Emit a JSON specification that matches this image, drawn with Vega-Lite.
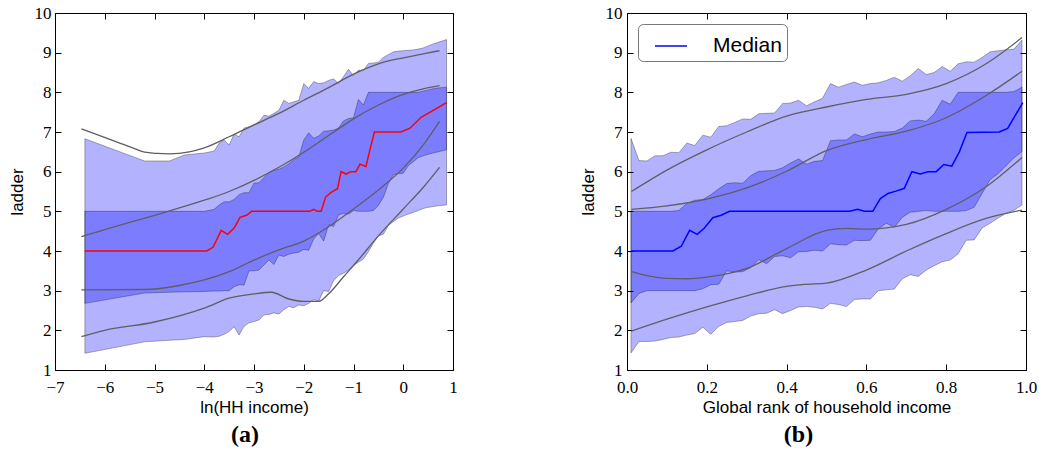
{
  "$schema": "https://vega.github.io/schema/vega-lite/v6.json",
  "background": "white",
  "padding": {"left": 7, "top": 3, "right": 5, "bottom": 5},
  "bounds": "flush",
  "spacing": 174,
  "resolve": {"scale": {"color": "independent"}, "legend": {"color": "independent"}},
  "config": {
    "view": {"stroke": "black", "strokeWidth": 1},
    "axis": {"grid": false, "domain": false, "tickColor": "black", "tickSize": -6, "tickWidth": 1,
      "labelFont": "Liberation Serif", "labelFontSize": 17, "labelColor": "black", "labelFlush": false, "labelOverlap": false, "labelBound": false,
      "titleFont": "Liberation Sans", "titleFontSize": 17, "titleFontWeight": "normal", "titleColor": "black"}
  },
  "datasets": {
    "a_band": [
      {"x": -6.4, "olo": 1.42, "ohi": 6.83, "ilo": 2.68, "ihi": 5.0},
      {"x": -5.2, "olo": 1.71, "ohi": 6.27, "ilo": 2.94, "ihi": 5.0},
      {"x": -4.7, "olo": 1.75, "ohi": 6.27, "ilo": 2.96, "ihi": 5.0},
      {"x": -4.4, "olo": 1.77, "ohi": 6.42, "ilo": 2.97, "ihi": 5.0},
      {"x": -4.0, "olo": 1.84, "ohi": 6.47, "ilo": 2.98, "ihi": 5.0},
      {"x": -3.8, "olo": 1.83, "ohi": 6.52, "ilo": 2.99, "ihi": 5.05},
      {"x": -3.7, "olo": 1.85, "ohi": 6.72, "ilo": 2.99, "ihi": 5.16},
      {"x": -3.6, "olo": 1.90, "ohi": 6.80, "ilo": 3.0, "ihi": 5.24},
      {"x": -3.5, "olo": 1.97, "ohi": 6.67, "ilo": 3.0, "ihi": 5.24},
      {"x": -3.4, "olo": 2.09, "ohi": 6.95, "ilo": 3.10, "ihi": 5.30},
      {"x": -3.3, "olo": 1.88, "ohi": 6.88, "ilo": 3.15, "ihi": 5.42},
      {"x": -3.2, "olo": 2.10, "ohi": 7.10, "ilo": 3.14, "ihi": 5.47},
      {"x": -3.1, "olo": 2.19, "ohi": 7.13, "ilo": 3.50, "ihi": 5.47},
      {"x": -3.0, "olo": 2.22, "ohi": 7.18, "ilo": 3.50, "ihi": 5.71},
      {"x": -2.9, "olo": 2.26, "ohi": 7.26, "ilo": 3.52, "ihi": 5.72},
      {"x": -2.8, "olo": 2.39, "ohi": 7.42, "ilo": 3.65, "ihi": 5.85},
      {"x": -2.7, "olo": 2.40, "ohi": 7.40, "ilo": 3.77, "ihi": 5.98},
      {"x": -2.6, "olo": 2.44, "ohi": 7.47, "ilo": 3.66, "ihi": 6.04},
      {"x": -2.5, "olo": 2.41, "ohi": 7.55, "ilo": 3.90, "ihi": 6.06},
      {"x": -2.4, "olo": 2.52, "ohi": 7.80, "ilo": 3.86, "ihi": 6.12},
      {"x": -2.3, "olo": 2.60, "ohi": 7.72, "ilo": 3.92, "ihi": 6.20},
      {"x": -2.2, "olo": 2.57, "ohi": 7.76, "ilo": 3.95, "ihi": 6.30},
      {"x": -2.1, "olo": 2.64, "ohi": 7.80, "ilo": 3.97, "ihi": 6.37},
      {"x": -2.0, "olo": 2.62, "ohi": 8.22, "ilo": 4.04, "ihi": 6.80},
      {"x": -1.9, "olo": 2.68, "ohi": 8.10, "ilo": 4.02, "ihi": 6.98},
      {"x": -1.8, "olo": 2.77, "ohi": 8.27, "ilo": 4.30, "ihi": 6.84},
      {"x": -1.7, "olo": 2.74, "ohi": 8.22, "ilo": 4.44, "ihi": 6.90},
      {"x": -1.6, "olo": 3.00, "ohi": 8.24, "ilo": 4.25, "ihi": 7.02},
      {"x": -1.5, "olo": 2.98, "ohi": 8.30, "ilo": 4.66, "ihi": 7.03},
      {"x": -1.4, "olo": 3.25, "ohi": 8.34, "ilo": 4.62, "ihi": 7.05},
      {"x": -1.3, "olo": 3.38, "ohi": 8.22, "ilo": 4.91, "ihi": 7.10},
      {"x": -1.2, "olo": 3.44, "ohi": 8.40, "ilo": 4.95, "ihi": 7.28},
      {"x": -1.1, "olo": 3.52, "ohi": 8.58, "ilo": 4.93, "ihi": 7.34},
      {"x": -1.0, "olo": 3.63, "ohi": 8.42, "ilo": 5.02, "ihi": 7.36},
      {"x": -0.9, "olo": 3.72, "ohi": 8.56, "ilo": 5.0, "ihi": 7.82},
      {"x": -0.8, "olo": 3.80, "ohi": 8.55, "ilo": 5.0, "ihi": 7.68},
      {"x": -0.7, "olo": 3.98, "ohi": 8.73, "ilo": 5.0, "ihi": 8.0},
      {"x": -0.6, "olo": 4.20, "ohi": 8.74, "ilo": 5.02, "ihi": 8.0},
      {"x": -0.5, "olo": 4.38, "ohi": 8.76, "ilo": 5.15, "ihi": 8.0},
      {"x": -0.4, "olo": 4.42, "ohi": 8.88, "ilo": 5.35, "ihi": 8.0},
      {"x": -0.3, "olo": 4.64, "ohi": 8.95, "ilo": 5.70, "ihi": 8.0},
      {"x": -0.2, "olo": 4.74, "ohi": 9.02, "ilo": 5.92, "ihi": 8.0},
      {"x": -0.1, "olo": 4.83, "ohi": 9.04, "ilo": 5.95, "ihi": 8.0},
      {"x": 0.0, "olo": 4.88, "ohi": 9.05, "ilo": 5.96, "ihi": 8.0},
      {"x": 0.1, "olo": 4.93, "ohi": 9.06, "ilo": 6.15, "ihi": 8.0},
      {"x": 0.2, "olo": 4.97, "ohi": 9.07, "ilo": 6.25, "ihi": 8.0},
      {"x": 0.3, "olo": 5.02, "ohi": 9.09, "ilo": 6.35, "ihi": 8.0},
      {"x": 0.4, "olo": 5.07, "ohi": 9.12, "ilo": 6.40, "ihi": 8.03},
      {"x": 0.5, "olo": 5.10, "ohi": 9.17, "ilo": 6.44, "ihi": 8.06},
      {"x": 0.6, "olo": 5.12, "ohi": 9.22, "ilo": 6.47, "ihi": 8.09},
      {"x": 0.7, "olo": 5.14, "ohi": 9.26, "ilo": 6.50, "ihi": 8.11},
      {"x": 0.87, "olo": 5.16, "ohi": 9.33, "ilo": 6.55, "ihi": 8.13}
    ],
    "a_lines": [
      {"id": "L1", "x": -6.47, "y": 7.08}, {"id": "L1", "x": -6.1, "y": 6.91}, {"id": "L1", "x": -5.7, "y": 6.72}, {"id": "L1", "x": -5.4, "y": 6.58}, {"id": "L1", "x": -5.2, "y": 6.49}, {"id": "L1", "x": -4.95, "y": 6.46}, {"id": "L1", "x": -4.7, "y": 6.45}, {"id": "L1", "x": -4.3, "y": 6.5}, {"id": "L1", "x": -4.0, "y": 6.6}, {"id": "L1", "x": -3.5, "y": 6.88}, {"id": "L1", "x": -3.0, "y": 7.18}, {"id": "L1", "x": -2.5, "y": 7.47}, {"id": "L1", "x": -2.0, "y": 7.8}, {"id": "L1", "x": -1.5, "y": 8.12}, {"id": "L1", "x": -1.0, "y": 8.46}, {"id": "L1", "x": -0.5, "y": 8.72}, {"id": "L1", "x": 0.0, "y": 8.87}, {"id": "L1", "x": 0.4, "y": 8.97}, {"id": "L1", "x": 0.73, "y": 9.05},
      {"id": "L2", "x": -6.47, "y": 4.36}, {"id": "L2", "x": -6.0, "y": 4.54}, {"id": "L2", "x": -5.0, "y": 4.9}, {"id": "L2", "x": -4.0, "y": 5.28}, {"id": "L2", "x": -3.5, "y": 5.5}, {"id": "L2", "x": -3.0, "y": 5.78}, {"id": "L2", "x": -2.5, "y": 6.11}, {"id": "L2", "x": -2.0, "y": 6.49}, {"id": "L2", "x": -1.5, "y": 6.91}, {"id": "L2", "x": -1.0, "y": 7.33}, {"id": "L2", "x": -0.5, "y": 7.68}, {"id": "L2", "x": 0.0, "y": 7.95}, {"id": "L2", "x": 0.4, "y": 8.09}, {"id": "L2", "x": 0.73, "y": 8.17},
      {"id": "L3", "x": -6.47, "y": 3.02}, {"id": "L3", "x": -5.2, "y": 3.03}, {"id": "L3", "x": -4.5, "y": 3.13}, {"id": "L3", "x": -4.0, "y": 3.27}, {"id": "L3", "x": -3.5, "y": 3.48}, {"id": "L3", "x": -3.0, "y": 3.77}, {"id": "L3", "x": -2.5, "y": 4.03}, {"id": "L3", "x": -2.0, "y": 4.25}, {"id": "L3", "x": -1.5, "y": 4.61}, {"id": "L3", "x": -1.0, "y": 5.06}, {"id": "L3", "x": -0.5, "y": 5.54}, {"id": "L3", "x": 0.0, "y": 6.09}, {"id": "L3", "x": 0.4, "y": 6.67}, {"id": "L3", "x": 0.73, "y": 7.27},
      {"id": "L4", "x": -6.47, "y": 1.84}, {"id": "L4", "x": -6.0, "y": 2.0}, {"id": "L4", "x": -5.0, "y": 2.21}, {"id": "L4", "x": -4.0, "y": 2.56}, {"id": "L4", "x": -3.5, "y": 2.81}, {"id": "L4", "x": -3.0, "y": 2.92}, {"id": "L4", "x": -2.65, "y": 2.96}, {"id": "L4", "x": -2.3, "y": 2.79}, {"id": "L4", "x": -2.0, "y": 2.73}, {"id": "L4", "x": -1.7, "y": 2.73}, {"id": "L4", "x": -1.5, "y": 2.92}, {"id": "L4", "x": -1.2, "y": 3.35}, {"id": "L4", "x": -0.9, "y": 3.78}, {"id": "L4", "x": -0.5, "y": 4.38}, {"id": "L4", "x": 0.0, "y": 5.06}, {"id": "L4", "x": 0.4, "y": 5.6}, {"id": "L4", "x": 0.73, "y": 6.11}
    ],
    "a_med": [
      {"x": -6.4, "y": 4.0}, {"x": -3.95, "y": 4.0}, {"x": -3.82, "y": 4.1}, {"x": -3.66, "y": 4.52}, {"x": -3.53, "y": 4.42}, {"x": -3.4, "y": 4.58}, {"x": -3.28, "y": 4.85}, {"x": -3.15, "y": 4.9}, {"x": -3.05, "y": 5.0}, {"x": -1.88, "y": 5.0}, {"x": -1.8, "y": 5.05}, {"x": -1.73, "y": 5.0}, {"x": -1.65, "y": 5.0}, {"x": -1.56, "y": 5.36}, {"x": -1.45, "y": 5.48}, {"x": -1.32, "y": 5.57}, {"x": -1.25, "y": 6.0}, {"x": -1.15, "y": 5.94}, {"x": -1.05, "y": 6.0}, {"x": -0.95, "y": 6.0}, {"x": -0.87, "y": 6.19}, {"x": -0.75, "y": 6.13}, {"x": -0.68, "y": 6.5}, {"x": -0.58, "y": 7.0}, {"x": -0.05, "y": 7.0}, {"x": 0.13, "y": 7.09}, {"x": 0.36, "y": 7.37}, {"x": 0.87, "y": 7.74}
    ],
    "b_band": [
      {"x": 0.01, "ohi": 6.84, "olo": 1.43, "ihi": 5.0, "ilo": 2.69},
      {"x": 0.03, "ohi": 6.28, "olo": 1.72, "ihi": 5.0, "ilo": 2.93},
      {"x": 0.05, "ohi": 6.27, "olo": 1.72, "ihi": 5.0, "ilo": 3.0},
      {"x": 0.07, "ohi": 6.40, "olo": 1.73, "ihi": 5.0, "ilo": 3.0},
      {"x": 0.09, "ohi": 6.40, "olo": 1.77, "ihi": 5.0, "ilo": 3.0},
      {"x": 0.11, "ohi": 6.49, "olo": 1.82, "ihi": 5.0, "ilo": 3.0},
      {"x": 0.13, "ohi": 6.48, "olo": 1.83, "ihi": 5.02, "ilo": 3.0},
      {"x": 0.15, "ohi": 6.72, "olo": 1.88, "ihi": 5.2, "ilo": 3.0},
      {"x": 0.17, "ohi": 6.66, "olo": 1.92, "ihi": 5.28, "ilo": 3.0},
      {"x": 0.19, "ohi": 6.92, "olo": 2.08, "ihi": 5.30, "ilo": 3.05},
      {"x": 0.21, "ohi": 6.87, "olo": 1.90, "ihi": 5.42, "ilo": 3.15},
      {"x": 0.23, "ohi": 7.14, "olo": 2.10, "ihi": 5.57, "ilo": 3.16},
      {"x": 0.25, "ohi": 7.16, "olo": 2.20, "ihi": 5.70, "ilo": 3.50},
      {"x": 0.27, "ohi": 7.24, "olo": 2.22, "ihi": 5.72, "ilo": 3.47},
      {"x": 0.29, "ohi": 7.33, "olo": 2.25, "ihi": 5.71, "ilo": 3.48},
      {"x": 0.31, "ohi": 7.32, "olo": 2.36, "ihi": 5.90, "ilo": 3.58},
      {"x": 0.33, "ohi": 7.46, "olo": 2.42, "ihi": 6.01, "ilo": 3.78},
      {"x": 0.35, "ohi": 7.47, "olo": 2.43, "ihi": 6.02, "ilo": 3.68},
      {"x": 0.37, "ohi": 7.48, "olo": 2.52, "ihi": 6.03, "ilo": 3.86},
      {"x": 0.39, "ohi": 7.72, "olo": 2.42, "ihi": 6.10, "ilo": 3.88},
      {"x": 0.41, "ohi": 7.73, "olo": 2.50, "ihi": 6.22, "ilo": 3.83},
      {"x": 0.43, "ohi": 7.80, "olo": 2.59, "ihi": 6.32, "ilo": 3.98},
      {"x": 0.45, "ohi": 7.66, "olo": 2.60, "ihi": 6.19, "ilo": 3.99},
      {"x": 0.47, "ohi": 7.76, "olo": 2.58, "ihi": 6.26, "ilo": 4.02},
      {"x": 0.49, "ohi": 7.85, "olo": 2.54, "ihi": 6.28, "ilo": 4.0},
      {"x": 0.51, "ohi": 8.22, "olo": 2.68, "ihi": 6.78, "ilo": 4.18},
      {"x": 0.53, "ohi": 8.13, "olo": 2.65, "ihi": 6.80, "ilo": 4.16},
      {"x": 0.55, "ohi": 8.20, "olo": 2.60, "ihi": 6.80, "ilo": 4.15},
      {"x": 0.57, "ohi": 8.26, "olo": 2.78, "ihi": 6.95, "ilo": 4.27},
      {"x": 0.59, "ohi": 8.18, "olo": 2.79, "ihi": 6.88, "ilo": 4.26},
      {"x": 0.61, "ohi": 8.22, "olo": 2.79, "ihi": 6.95, "ilo": 4.27},
      {"x": 0.63, "ohi": 8.24, "olo": 3.00, "ihi": 7.00, "ilo": 4.56},
      {"x": 0.65, "ohi": 8.30, "olo": 3.02, "ihi": 7.00, "ilo": 4.70},
      {"x": 0.67, "ohi": 8.38, "olo": 3.04, "ihi": 7.01, "ilo": 4.60},
      {"x": 0.69, "ohi": 8.28, "olo": 3.30, "ihi": 7.10, "ilo": 4.85},
      {"x": 0.71, "ohi": 8.42, "olo": 3.40, "ihi": 7.28, "ilo": 4.98},
      {"x": 0.73, "ohi": 8.60, "olo": 3.36, "ihi": 7.30, "ilo": 5.0},
      {"x": 0.75, "ohi": 8.45, "olo": 3.52, "ihi": 7.27, "ilo": 5.02},
      {"x": 0.77, "ohi": 8.50, "olo": 3.63, "ihi": 7.46, "ilo": 5.0},
      {"x": 0.79, "ohi": 8.65, "olo": 3.73, "ihi": 7.80, "ilo": 5.0},
      {"x": 0.81, "ohi": 8.53, "olo": 3.77, "ihi": 7.70, "ilo": 5.0},
      {"x": 0.83, "ohi": 8.72, "olo": 3.93, "ihi": 8.0, "ilo": 5.0},
      {"x": 0.85, "ohi": 8.77, "olo": 4.27, "ihi": 8.0, "ilo": 5.02},
      {"x": 0.87, "ohi": 8.76, "olo": 4.28, "ihi": 8.0, "ilo": 5.10},
      {"x": 0.89, "ohi": 8.88, "olo": 4.58, "ihi": 8.0, "ilo": 5.45},
      {"x": 0.91, "ohi": 9.02, "olo": 4.70, "ihi": 8.0, "ilo": 5.80},
      {"x": 0.93, "ohi": 9.05, "olo": 4.83, "ihi": 8.0, "ilo": 5.95},
      {"x": 0.95, "ohi": 9.07, "olo": 4.95, "ihi": 8.0, "ilo": 6.15},
      {"x": 0.97, "ohi": 9.09, "olo": 5.03, "ihi": 8.02, "ilo": 6.35},
      {"x": 0.99, "ohi": 9.32, "olo": 5.16, "ihi": 8.13, "ilo": 6.51}
    ],
    "b_lines": [
      {"id": "M1", "x": 0.011, "y": 5.5}, {"id": "M1", "x": 0.1, "y": 6.04}, {"id": "M1", "x": 0.2, "y": 6.55}, {"id": "M1", "x": 0.3, "y": 7.0}, {"id": "M1", "x": 0.4, "y": 7.4}, {"id": "M1", "x": 0.5, "y": 7.63}, {"id": "M1", "x": 0.6, "y": 7.82}, {"id": "M1", "x": 0.7, "y": 7.95}, {"id": "M1", "x": 0.8, "y": 8.22}, {"id": "M1", "x": 0.9, "y": 8.72}, {"id": "M1", "x": 0.99, "y": 9.38},
      {"id": "M2", "x": 0.011, "y": 5.05}, {"id": "M2", "x": 0.1, "y": 5.14}, {"id": "M2", "x": 0.2, "y": 5.31}, {"id": "M2", "x": 0.3, "y": 5.59}, {"id": "M2", "x": 0.4, "y": 6.01}, {"id": "M2", "x": 0.5, "y": 6.53}, {"id": "M2", "x": 0.6, "y": 6.81}, {"id": "M2", "x": 0.7, "y": 7.02}, {"id": "M2", "x": 0.8, "y": 7.36}, {"id": "M2", "x": 0.9, "y": 7.92}, {"id": "M2", "x": 0.99, "y": 8.53},
      {"id": "M3", "x": 0.011, "y": 3.48}, {"id": "M3", "x": 0.05, "y": 3.38}, {"id": "M3", "x": 0.1, "y": 3.31}, {"id": "M3", "x": 0.15, "y": 3.3}, {"id": "M3", "x": 0.2, "y": 3.34}, {"id": "M3", "x": 0.3, "y": 3.56}, {"id": "M3", "x": 0.4, "y": 4.06}, {"id": "M3", "x": 0.5, "y": 4.52}, {"id": "M3", "x": 0.55, "y": 4.57}, {"id": "M3", "x": 0.6, "y": 4.55}, {"id": "M3", "x": 0.7, "y": 4.67}, {"id": "M3", "x": 0.8, "y": 5.05}, {"id": "M3", "x": 0.9, "y": 5.62}, {"id": "M3", "x": 0.99, "y": 6.36},
      {"id": "M4", "x": 0.011, "y": 1.98}, {"id": "M4", "x": 0.1, "y": 2.28}, {"id": "M4", "x": 0.2, "y": 2.59}, {"id": "M4", "x": 0.3, "y": 2.87}, {"id": "M4", "x": 0.4, "y": 3.11}, {"id": "M4", "x": 0.45, "y": 3.16}, {"id": "M4", "x": 0.5, "y": 3.19}, {"id": "M4", "x": 0.6, "y": 3.52}, {"id": "M4", "x": 0.7, "y": 4.0}, {"id": "M4", "x": 0.8, "y": 4.44}, {"id": "M4", "x": 0.9, "y": 4.82}, {"id": "M4", "x": 0.99, "y": 5.03}
    ],
    "b_med": [
      {"x": 0.011, "y": 4.0}, {"x": 0.115, "y": 4.0}, {"x": 0.136, "y": 4.12}, {"x": 0.157, "y": 4.52}, {"x": 0.176, "y": 4.42}, {"x": 0.194, "y": 4.58}, {"x": 0.215, "y": 4.84}, {"x": 0.236, "y": 4.9}, {"x": 0.257, "y": 5.0}, {"x": 0.558, "y": 5.0}, {"x": 0.578, "y": 5.05}, {"x": 0.595, "y": 5.0}, {"x": 0.616, "y": 5.0}, {"x": 0.635, "y": 5.32}, {"x": 0.654, "y": 5.45}, {"x": 0.674, "y": 5.51}, {"x": 0.695, "y": 5.58}, {"x": 0.714, "y": 6.0}, {"x": 0.735, "y": 5.94}, {"x": 0.754, "y": 6.0}, {"x": 0.775, "y": 6.0}, {"x": 0.794, "y": 6.18}, {"x": 0.814, "y": 6.14}, {"x": 0.833, "y": 6.5}, {"x": 0.852, "y": 6.99}, {"x": 0.933, "y": 7.0}, {"x": 0.954, "y": 7.09}, {"x": 0.992, "y": 7.74}
    ]
  },
  "hconcat": [
    {
      "width": 398, "height": 357,
      "title": {"text": "(a)", "orient": "bottom", "anchor": "middle", "dx": -9, "offset": 8, "font": "Liberation Serif", "fontSize": 24, "fontWeight": "bold", "color": "black"},
      "resolve": {"axis": {"x": "independent", "y": "independent"}},
      "layer": [
        {
          "data": {"name": "a_band"},
          "mark": {"type": "area", "fill": "blue", "fillOpacity": 0.3, "stroke": "black", "strokeOpacity": 0.3, "strokeWidth": 1},
          "encoding": {
            "x": {"field": "x", "type": "quantitative", "scale": {"domain": [-7, 1], "nice": false, "zero": false},
              "axis": {"orient": "bottom", "title": "ln(HH income)", "values": [-7, -6, -5, -4, -3, -2, -1, 0, 1], "format": "d", "labelPadding": 15, "titlePadding": 4}},
            "y": {"field": "olo", "type": "quantitative", "scale": {"domain": [1, 10], "nice": false, "zero": false},
              "axis": {"orient": "left", "title": "ladder", "values": [1, 2, 3, 4, 5, 6, 7, 8, 9, 10], "format": "d", "labelPadding": 10, "titlePadding": 8}},
            "y2": {"field": "ohi"}
          }
        },
        {
          "data": {"name": "a_band"},
          "mark": {"type": "area", "fill": "blue", "fillOpacity": 0.3, "stroke": "black", "strokeOpacity": 0.3, "strokeWidth": 1},
          "encoding": {
            "x": {"field": "x", "type": "quantitative", "axis": null},
            "y": {"field": "ilo", "type": "quantitative", "axis": null},
            "y2": {"field": "ihi"}
          }
        },
        {
          "data": {"name": "a_lines"},
          "mark": {"type": "line", "color": "#5f5f5f", "strokeWidth": 1.3, "interpolate": "monotone"},
          "encoding": {
            "x": {"field": "x", "type": "quantitative", "axis": null},
            "y": {"field": "y", "type": "quantitative", "axis": null},
            "detail": {"field": "id"}
          }
        },
        {
          "data": {"name": "a_med"},
          "mark": {"type": "line", "color": "red", "strokeWidth": 1.5},
          "encoding": {
            "x": {"field": "x", "type": "quantitative", "axis": {"orient": "top", "labels": false, "title": null, "values": [-7, -6, -5, -4, -3, -2, -1, 0, 1]}},
            "y": {"field": "y", "type": "quantitative", "axis": {"orient": "right", "labels": false, "title": null, "values": [1, 2, 3, 4, 5, 6, 7, 8, 9, 10]}}
          }
        }
      ]
    },
    {
      "width": 399, "height": 357,
      "title": {"text": "(b)", "orient": "bottom", "anchor": "middle", "dx": -28, "offset": 8, "font": "Liberation Serif", "fontSize": 24, "fontWeight": "bold", "color": "black"},
      "resolve": {"axis": {"x": "independent", "y": "independent"}},
      "layer": [
        {
          "data": {"name": "b_band"},
          "mark": {"type": "area", "fill": "blue", "fillOpacity": 0.3, "stroke": "black", "strokeOpacity": 0.3, "strokeWidth": 1},
          "encoding": {
            "x": {"field": "x", "type": "quantitative", "scale": {"domain": [0, 1], "nice": false, "zero": false},
              "axis": {"orient": "bottom", "title": "Global rank of household income", "values": [0, 0.2, 0.4, 0.6, 0.8, 1], "format": ".1f", "labelPadding": 15, "titlePadding": 4}},
            "y": {"field": "olo", "type": "quantitative", "scale": {"domain": [1, 10], "nice": false, "zero": false},
              "axis": {"orient": "left", "title": "ladder", "values": [1, 2, 3, 4, 5, 6, 7, 8, 9, 10], "format": "d", "labelPadding": 11, "titlePadding": 8}},
            "y2": {"field": "ohi"}
          }
        },
        {
          "data": {"name": "b_band"},
          "mark": {"type": "area", "fill": "blue", "fillOpacity": 0.3, "stroke": "black", "strokeOpacity": 0.3, "strokeWidth": 1},
          "encoding": {
            "x": {"field": "x", "type": "quantitative", "axis": null},
            "y": {"field": "ilo", "type": "quantitative", "axis": null},
            "y2": {"field": "ihi"}
          }
        },
        {
          "data": {"name": "b_lines"},
          "mark": {"type": "line", "color": "#5f5f5f", "strokeWidth": 1.3, "interpolate": "monotone"},
          "encoding": {
            "x": {"field": "x", "type": "quantitative", "axis": null},
            "y": {"field": "y", "type": "quantitative", "axis": null},
            "detail": {"field": "id"}
          }
        },
        {
          "data": {"name": "b_med"},
          "mark": {"type": "line", "strokeWidth": 1.5},
          "encoding": {
            "x": {"field": "x", "type": "quantitative", "axis": {"orient": "top", "labels": false, "title": null, "values": [0, 0.2, 0.4, 0.6, 0.8, 1]}},
            "y": {"field": "y", "type": "quantitative", "axis": {"orient": "right", "labels": false, "title": null, "values": [1, 2, 3, 4, 5, 6, 7, 8, 9, 10]}},
            "color": {"datum": "Median", "type": "nominal", "scale": {"domain": ["Median"], "range": ["blue"]},
              "legend": {"title": null, "orient": "top-left", "offset": 11, "padding": 5, "symbolType": "stroke", "symbolSize": 1024, "symbolStrokeWidth": 1.5, "symbolOffset": 11, "labelOffset": 25, "labelFont": "Liberation Sans", "labelFontSize": 21, "labelColor": "black", "strokeColor": "#777777", "fillColor": "white", "cornerRadius": 5}}
          }
        }
      ]
    }
  ]
}
